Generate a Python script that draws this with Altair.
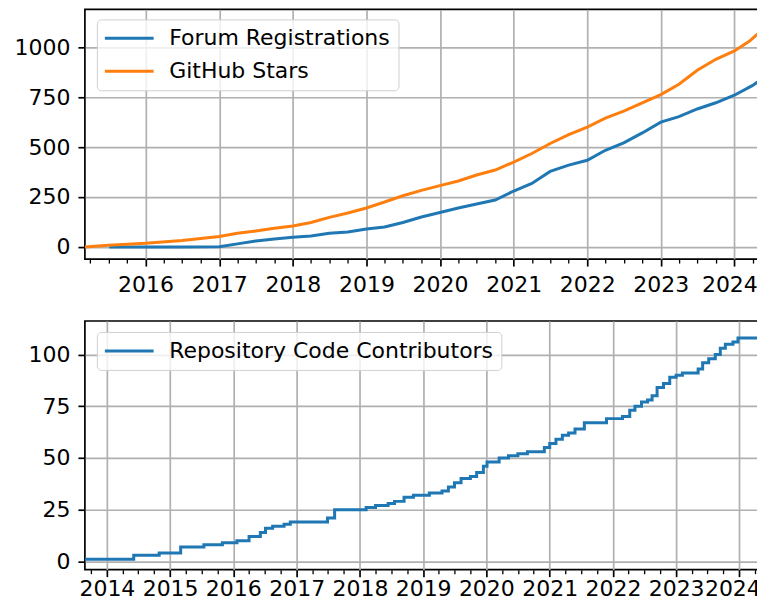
import altair as alt
import pandas as pd

# ---- data ----
stars_dates = ["2015-03-06", "2015-07-01", "2016-01-01", "2016-07-01", "2017-01-01", "2017-04-01",
               "2017-07-01", "2017-10-01", "2018-01-01", "2018-04-01", "2018-07-01", "2018-10-01",
               "2019-01-01", "2019-04-01", "2019-07-01", "2019-10-01", "2020-01-01", "2020-04-01",
               "2020-07-01", "2020-10-01", "2021-01-01", "2021-04-01", "2021-07-01", "2021-10-01",
               "2022-01-01", "2022-04-01", "2022-07-01", "2022-10-01", "2023-01-01", "2023-04-01",
               "2023-07-01", "2023-10-01", "2024-01-01", "2024-03-15", "2024-06-01"]
stars_values = [0, 8, 18, 32, 52, 68, 80, 93, 105, 122, 148, 170, 195, 225, 256, 283, 307, 330,
                360, 385, 425, 468, 518, 562, 600, 645, 680, 722, 763, 815, 885, 940, 982, 1030, 1100]

forum_dates = ["2015-07-05", "2016-01-01", "2016-07-01", "2017-01-01", "2017-04-01", "2017-07-01",
               "2017-10-01", "2018-01-01", "2018-04-01", "2018-07-01", "2018-10-01", "2019-01-01",
               "2019-04-01", "2019-07-01", "2019-10-01", "2020-01-01", "2020-04-01", "2020-07-01",
               "2020-10-01", "2021-01-01", "2021-04-01", "2021-07-01", "2021-10-01", "2022-01-01",
               "2022-04-01", "2022-07-01", "2022-10-01", "2023-01-01", "2023-04-01", "2023-07-01",
               "2023-10-01", "2024-01-01", "2024-04-01", "2024-06-01"]
forum_values = [0, 0, 0, 1, 15, 30, 40, 48, 55, 68, 75, 90, 100, 122, 150, 172, 195, 215, 235,
                280, 318, 378, 410, 434, 484, 521, 571, 625, 653, 691, 722, 760, 809, 852]

contrib_dates = ["2013-08-27", "2014-06-05", "2014-10-30", "2015-03-03", "2015-07-15", "2015-10-30",
                 "2016-01-22", "2016-04-01", "2016-06-05", "2016-07-05", "2016-08-15", "2016-10-20",
                 "2016-11-25", "2017-06-28", "2017-08-08", "2018-02-06", "2018-04-01", "2018-06-13",
                 "2018-07-20", "2018-09-13", "2018-11-06", "2019-02-06", "2019-04-20", "2019-05-27",
                 "2019-07-01", "2019-08-08", "2019-10-01", "2019-11-06", "2019-12-15", "2020-01-05",
                 "2020-03-15", "2020-05-08", "2020-07-01", "2020-08-25", "2020-12-01", "2021-01-01",
                 "2021-02-06", "2021-03-15", "2021-04-20", "2021-05-27", "2021-07-20", "2021-11-25",
                 "2022-02-25", "2022-04-08", "2022-05-08", "2022-06-15", "2022-07-20", "2022-08-15",
                 "2022-09-13", "2022-10-20", "2022-11-25", "2023-01-01", "2023-02-06", "2023-05-08",
                 "2023-06-03", "2023-07-08", "2023-08-15", "2023-09-13", "2023-10-12", "2023-11-25",
                 "2023-12-24", "2024-05-30"]
contrib_values = [1, 3, 4, 7, 8, 9, 10, 12, 14, 16, 17, 18, 19, 21, 25, 26, 27, 28, 29, 31, 32,
                  33, 34, 36, 38, 40, 41, 43, 46, 48, 50, 51, 52, 53, 55, 57, 59, 61, 62, 64, 67,
                  69, 70, 73, 75, 77, 78, 80, 84, 86, 89, 90, 91, 93, 96, 98, 100, 103, 105, 106,
                  108, 108]

top_series = ["Forum Registrations", "GitHub Stars"]
bottom_series = ["Repository Code Contributors"]
colors_top = ["#1f77b4", "#ff7f0e"]
colors_bottom = ["#1f77b4"]

top_xrange = ("2015-03-06", "2024-06-01")
bottom_xrange = ("2013-08-27", "2024-05-28")
top_yticks = [0, 250, 500, 750, 1000]
bottom_yticks = [0, 25, 50, 75, 100]

# ---- tables ----
top_df = pd.concat([
    pd.DataFrame({"date": forum_dates, "value": forum_values, "series": top_series[0]}),
    pd.DataFrame({"date": stars_dates, "value": stars_values, "series": top_series[1]}),
])
bottom_df = pd.DataFrame({"date": contrib_dates, "value": contrib_values, "series": bottom_series[0]})

FONT = "DejaVu Sans"
FS = 22
COND = "month(datum.value) == 0"
LAST = "year(datum.value) == 2024"


def dt(s):
    t = pd.Timestamp(s)
    return alt.DateTime(year=t.year, month=t.month, date=t.day)


def quarter_ticks(rng):
    lo, hi = pd.Timestamp(rng[0]), pd.Timestamp(rng[1])
    out = []
    for y in range(lo.year, hi.year + 1):
        for m in (1, 4, 7, 10):
            t = pd.Timestamp(year=y, month=m, day=1)
            if lo <= t <= hi:
                out.append(alt.DateTime(year=y, month=m, date=1))
    return out


def x_axis(rng, pad, last_shift):
    return alt.Axis(
        values=quarter_ticks(rng), title=None, domain=False,
        labelExpr=f"{COND} ? timeFormat(datum.value, '%Y') : ''",
        labelOverlap=False, labelFlush=False, labelBound=False,
        labelOffset={"condition": {"test": LAST, "value": last_shift}, "value": 0},
        tickSize={"condition": {"test": COND, "value": 7}, "value": 4},
        tickWidth={"condition": {"test": COND, "value": 1.7}, "value": 1.3},
        tickColor="black",
        gridOpacity={"condition": {"test": COND, "value": 1}, "value": 0},
        gridColor="#b0b0b0", gridWidth=1.7,
        labelFont=FONT, labelFontSize=FS, labelColor="black", labelPadding=pad,
    )


def y_axis(vals):
    return alt.Axis(
        values=vals, format="d", title=None, domain=False, tickSize=7, tickWidth=1.7,
        tickColor="black", gridColor="#b0b0b0", gridWidth=1.7, labelFont=FONT,
        labelFontSize=FS, labelColor="black", labelPadding=8,
    )


def legend(y):
    return alt.Legend(
        orient="none", legendX=12, legendY=y, title=None,
        symbolType="M-2.57,0H2.57", symbolSize=361, symbolStrokeWidth=3,
        symbolOffset=13.4, labelOffset=29, padding=8, rowPadding=11,
        labelFont=FONT, labelFontSize=FS, labelColor="black", labelLimit=0,
        strokeColor="#d0d0d0", fillColor="rgba(255,255,255,0.8)", cornerRadius=4,
    )


top = alt.Chart(top_df).mark_line(strokeWidth=3, clip=True).encode(
    x=alt.X("date:T", axis=x_axis(top_xrange, 8, -5),
            scale=alt.Scale(domain=[dt(top_xrange[0]), dt(top_xrange[1])])),
    y=alt.Y("value:Q", axis=y_axis(top_yticks), scale=alt.Scale(domain=[-61, 1190], nice=False, zero=False)),
    color=alt.Color("series:N", scale=alt.Scale(domain=top_series, range=colors_top), legend=legend(10)),
).properties(width=681, height=250)

bottom = alt.Chart(bottom_df).mark_line(strokeWidth=3, clip=True, interpolate="step-after").encode(
    x=alt.X("date:T", axis=x_axis(bottom_xrange, 2, -7),
            scale=alt.Scale(domain=[dt(bottom_xrange[0]), dt(bottom_xrange[1])])),
    y=alt.Y("value:Q", axis=y_axis(bottom_yticks), scale=alt.Scale(domain=[-4.0, 116.2], nice=False, zero=False)),
    color=alt.Color("series:N", scale=alt.Scale(domain=bottom_series, range=colors_bottom), legend=legend(11)),
).properties(width=681, height=249)

chart = alt.vconcat(top, bottom, spacing=62, bounds="flush").resolve_scale(
    x="independent", y="independent", color="independent"
).configure(
    padding={"left": 5, "top": 0, "right": -9, "bottom": 0}, background="white"
).configure_view(stroke="black", strokeWidth=1.7)

chart.save("out.html", embed_options={"renderer": "svg", "actions": False})
